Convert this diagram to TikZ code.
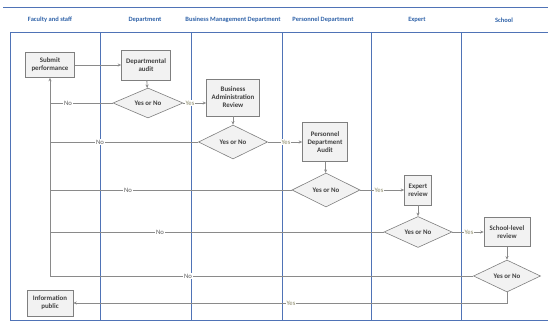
\documentclass[tikz,border=0pt]{standalone}
\usepackage{fontspec}
\setmainfont{Carlito}
\usetikzlibrary{shapes.geometric,arrows.meta,calc}
\definecolor{lane}{HTML}{4F73B6}
\definecolor{head}{HTML}{2F62A8}
\definecolor{conn}{HTML}{8A8A8A}
\definecolor{boxb}{HTML}{7F7F7F}
\definecolor{boxf}{HTML}{F2F2F2}
\definecolor{txt}{HTML}{404040}
\definecolor{nocol}{HTML}{5E5E5E}
\definecolor{yescol}{HTML}{8C8A6A}
\tikzset{
  lanel/.style={draw=lane,line width=1pt},
  headtxt/.style={font=\bfseries\fontsize{6.5}{8}\selectfont,text=head},
  procbox/.style={draw=boxb,fill=boxf,font=\bfseries\fontsize{6.9}{8}\selectfont,text=txt,align=center,inner sep=1pt,line width=0.6pt},
  decide/.style={diamond,draw=boxb,fill=boxf,font=\bfseries\fontsize{6.9}{8}\selectfont,text=txt,inner sep=0pt,aspect=2.2,line width=0.6pt},
  conline/.style={draw=conn,line width=0.8pt},
  arr/.style={conline,-{Stealth[length=3.5pt,width=3pt]}},
  nolbl/.style={fill=white,inner sep=1pt,font=\fontsize{6.7}{7.5}\selectfont,text=nocol},
  yeslbl/.style={fill=white,inner sep=1pt,font=\fontsize{6.7}{7.5}\selectfont,text=yescol}
}
\begin{document}
\begin{tikzpicture}[x=1pt,y=-1pt]
\useasboundingbox (0,0) rectangle (548,323);
% swimlanes
\draw[lanel] (3,8) -- (548,8);
\draw[lanel] (10,33) -- (548,33);
\draw[lanel] (10,320) -- (548,320);
\foreach \xx in {10,100,191,282,371,461} \draw[lanel] (\xx,33) -- (\xx,320);
\node[headtxt] (h1) at (50,20) {Faculty and staff};
\node[headtxt] (h2) at (145,20) {Department};
\node[headtxt] (h3) at (233,20) {Business Management Department};
\node[headtxt] (h4) at (323,20) {Personnel Department};
\node[headtxt] (h5) at (417,20) {Expert};
\node[headtxt] (h6) at (504,20) {School};
% nodes
\node[procbox,minimum width=49pt,minimum height=25pt] (sub) at (50,65) {Submit\\performance};
\node[procbox,minimum width=49pt,minimum height=30pt] (da) at (146,65) {Departmental\\audit};
\node[decide,minimum width=70pt,minimum height=30pt] (d1) at (148,103) {Yes or No};
\node[procbox,minimum width=53pt,minimum height=37pt] (bar) at (233,97.5) {Business\\Administration\\Review};
\node[decide,minimum width=69pt,minimum height=34pt] (d2) at (233,142) {Yes or No};
\node[procbox,minimum width=45pt,minimum height=39pt] (pda) at (325,142) {Personnel\\Department\\Audit};
\node[decide,minimum width=68pt,minimum height=34pt] (d3) at (326,190) {Yes or No};
\node[procbox,minimum width=27pt,minimum height=30pt] (ex) at (418,190) {Expert\\review};
\node[decide,minimum width=68pt,minimum height=31pt] (d4) at (418,232) {Yes or No};
\node[procbox,minimum width=46pt,minimum height=29pt] (sch) at (507,232) {School-level\\review};
\node[decide,minimum width=67pt,minimum height=32pt] (d5) at (507,276) {Yes or No};
\node[procbox,minimum width=46pt,minimum height=26pt] (info) at (50,303) {Information\\public};
\coordinate (jn) at (d5.west -| sub.south);
\coordinate (jy) at (d5.south |- info.east);
% connectors
\draw[arr] (sub) -- (da);
\draw[arr] (da) -- (d1);
\draw[arr] (d1) -- (bar.west |- d1.east);
\draw[arr] (bar) -- (d2);
\draw[arr] (d2) -- (pda);
\draw[arr] (pda) -- (d3);
\draw[arr] (d3) -- (ex);
\draw[arr] (ex) -- (d4);
\draw[arr] (d4) -- (sch);
\draw[arr] (sch) -- (d5);
\draw[conline] (d1.west) -- (d1.west -| sub.south);
\draw[conline] (d2.west) -- (d2.west -| sub.south);
\draw[conline] (d3.west) -- (d3.west -| sub.south);
\draw[conline] (d4.west) -- (d4.west -| sub.south);
\draw[conline] (d5.west) -- (jn);
\draw[arr] (jn) -- (sub.south);
\draw[arr] (d5.south) -- (jy) -- (info.east);
% labels
\node[yeslbl] (y1) at (190,103) {Yes};
\node[yeslbl] (y2) at (286,142) {Yes};
\node[yeslbl] (y3) at (379,190) {Yes};
\node[yeslbl] (y4) at (469,232) {Yes};
\node[yeslbl] (y5) at (291,303) {Yes};
\node[nolbl] (n1) at (68,103) {No};
\node[nolbl] (n2) at (100,142) {No};
\node[nolbl] (n3) at (128,190) {No};
\node[nolbl] (n4) at (160,232) {No};
\node[nolbl] (n5) at (188,276) {No};
\end{tikzpicture}
\end{document}
